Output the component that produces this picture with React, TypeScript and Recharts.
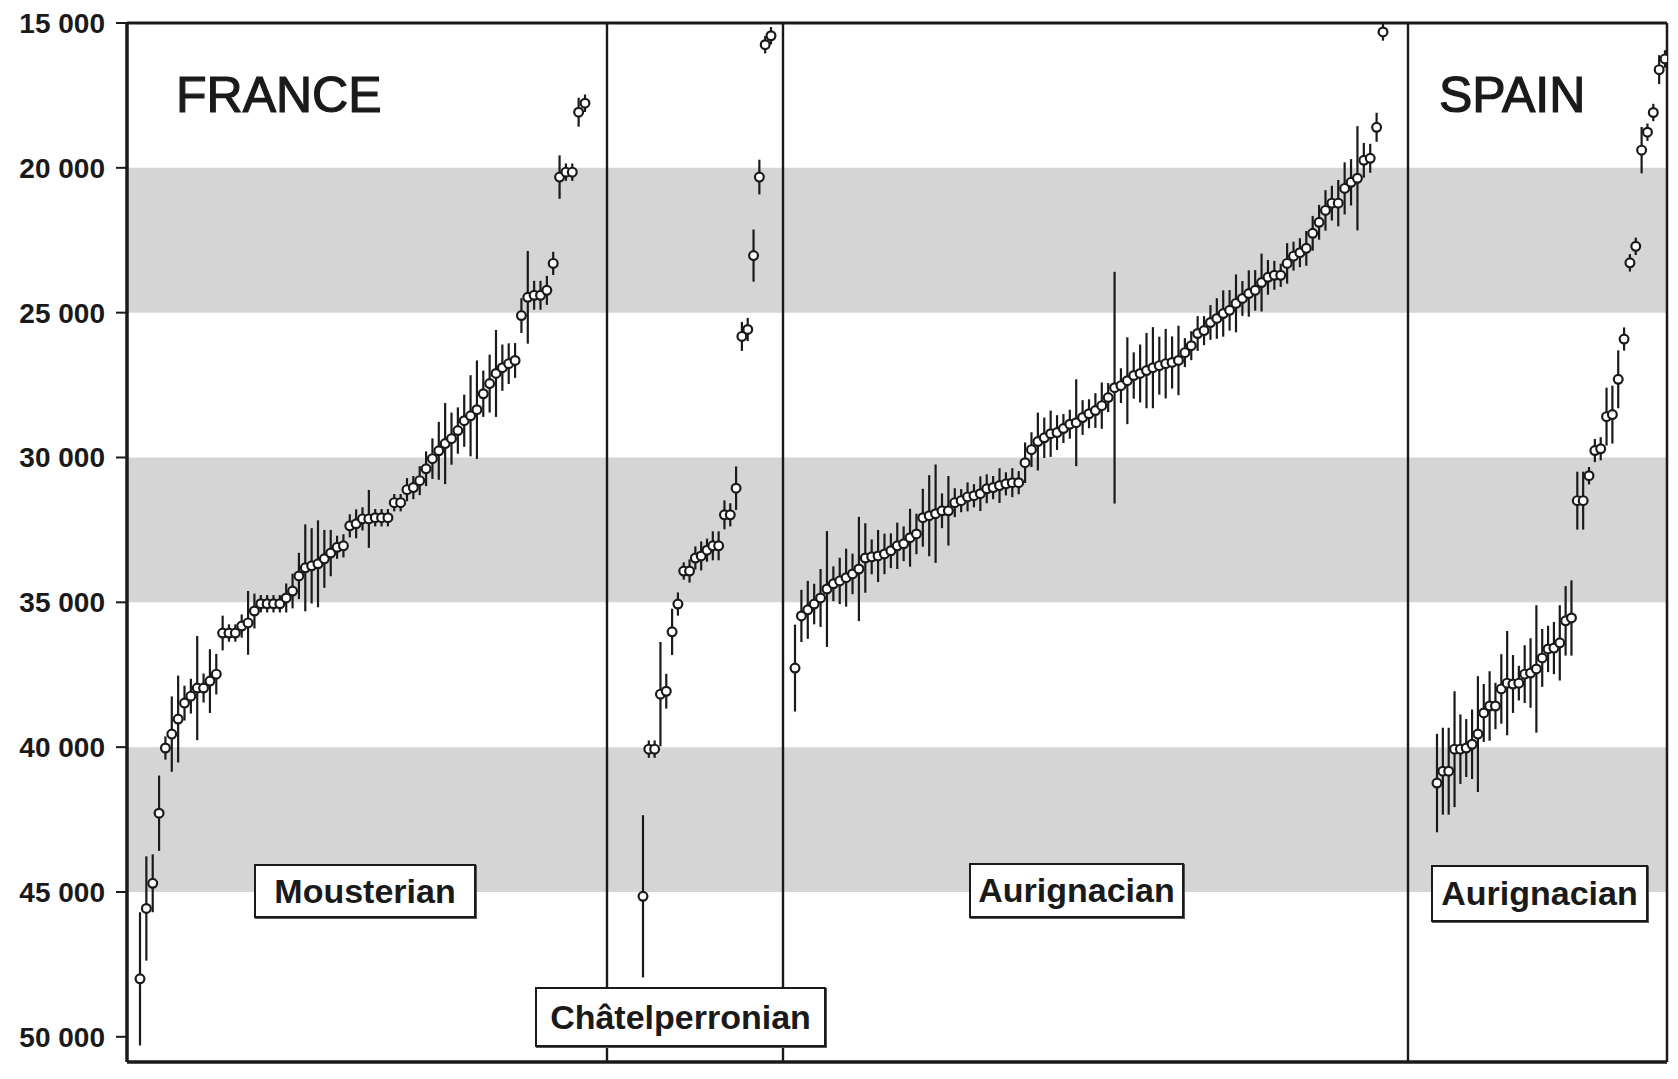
import {
  ComposedChart,
  Scatter,
  ErrorBar,
  XAxis,
  YAxis,
  ReferenceArea,
  ReferenceLine,
} from "recharts";

// radiocarbon ages (BP) sorted within each group, with 1-sigma errors
const mousterianAges = [
  48000, 45570, 44700, 42280, 40030, 39550, 39030, 38480, 38240, 37960,
  37960, 37720, 37480, 36060, 36060, 36060, 35820, 35710, 35300, 35050,
  35050, 35050, 35050, 34850, 34610, 34090, 33810, 33740, 33670, 33500,
  33300, 33100, 33050, 32360, 32290, 32120, 32120, 32080, 32080, 32080,
  31560, 31560, 31110, 31040, 30800, 30390, 30040, 29770, 29520, 29350,
  29070, 28730, 28560, 28350, 27800, 27450, 27100, 26900, 26760, 26650,
  25100, 24470, 24400, 24400, 24230, 23300, 20320, 20150, 20150, 18080, 17770,
];
const mousterianErrs = [
  2300, 1800, 1000, 1300, 400, 1300, 1500, 600, 600, 1800,
  500, 1100, 700, 600, 300, 300, 400, 1100, 600, 300,
  300, 300, 300, 500, 600, 800, 1500, 1300, 1500, 1000,
  800, 400, 400, 400, 500, 400, 1000, 300, 300, 300,
  300, 300, 400, 400, 500, 600, 700, 1000, 1400, 900,
  800, 900, 1400, 1700, 800, 1000, 1500, 800, 700, 600,
  600, 1600, 500, 500, 500, 400, 750, 300, 300, 500, 300,
];

const chatelperronianAges = [
  45150, 40070, 40070, 38170, 38070, 36020, 35060, 33920, 33920, 33470,
  33400, 33200, 33050, 33050, 31980, 31980, 31060, 25820, 25580, 23030,
  20320, 15750, 15440,
];
const chatelperronianErrs = [
  2800, 300, 300, 1800, 600, 800, 400, 300, 400, 400,
  500, 400, 500, 500, 500, 400, 750, 500, 400, 900,
  600, 300, 300,
];

const aurignacianAges = [
  37270, 35470, 35260, 35060, 34850, 34540, 34360, 34260, 34150, 34020,
  33850, 33470, 33430, 33400, 33330, 33220, 33050, 32980, 32770, 32640,
  32080, 32010, 31940, 31840, 31840, 31560, 31490, 31360, 31320, 31250,
  31080, 31040, 30970, 30910, 30870, 30870, 30180, 29730, 29450, 29320,
  29180, 29140, 29000, 28850, 28800, 28620, 28490, 28380, 28210, 27930,
  27590, 27520, 27350, 27170, 27100, 27000, 26900, 26830, 26760, 26720,
  26650, 26380, 26140, 25720, 25620, 25340, 25200, 25030, 24920, 24680,
  24510, 24340, 24230, 23960, 23780, 23710, 23710, 23300, 23050, 22930,
  22780, 22260, 21880, 21470, 21220, 21220, 20710, 20500, 20360, 19740,
  19670, 18600, 15310,
];
const aurignacianErrs = [
  1500, 900, 1000, 700, 1000, 2000, 600, 800, 1000, 700,
  1800, 1200, 600, 900, 700, 600, 800, 600, 1000, 700,
  1000, 1400, 1700, 600, 1200, 500, 400, 500, 400, 600,
  500, 400, 600, 400, 500, 400, 700, 600, 1000, 700,
  800, 600, 500, 500, 1500, 600, 500, 600, 800, 500,
  4000, 600, 1500, 800, 1000, 1300, 1400, 1000, 1200, 900,
  1200, 500, 500, 600, 500, 600, 700, 800, 700, 1000,
  600, 800, 700, 1000, 600, 500, 400, 700, 500, 500,
  600, 600, 600, 700, 600, 800, 900, 800, 1800, 600,
  500, 500, 300,
];

const spainAges = [
  41240, 40830, 40830, 40070, 40070, 40030, 39900, 39550, 38820, 38580,
  38580, 37990, 37790, 37820, 37790, 37480, 37440, 37300, 36920, 36610,
  36580, 36400, 35640, 35540, 31490, 31490, 30630, 29760, 29700, 28590,
  28520, 27300, 25910, 23280, 22710, 19390, 18770, 18090, 16610, 16240,
];
const spainErrs = [
  1700, 1500, 1500, 2000, 1200, 1000, 1200, 2000, 1000, 1200,
  800, 1200, 1800, 1000, 600, 1000, 1200, 2200, 1000, 800,
  900, 1300, 1200, 1300, 1000, 1000, 300, 400, 400, 1000,
  1000, 1000, 400, 300, 300, 800, 300, 300, 500, 300,
];

const yTicks = [15000, 20000, 25000, 30000, 35000, 40000, 45000, 50000];
const grayBands = [
  [20000, 25000],
  [30000, 35000],
  [40000, 45000],
];

// horizontal layout of the four groups (x axis runs in pixel-like units)
const X_MIN = 127;
const X_MAX = 1667;
const Y_MIN = 15000;
const Y_MAX = 50870;
const panels = [
  { key: "mou", ages: mousterianAges, errs: mousterianErrs, right: 607, first: 140, last: 585 },
  { key: "cha", ages: chatelperronianAges, errs: chatelperronianErrs, right: 783, first: 643, last: 771 },
  { key: "aur", ages: aurignacianAges, errs: aurignacianErrs, right: 1408, first: 795, last: 1383 },
  { key: "spa", ages: spainAges, errs: spainErrs, right: X_MAX, first: 1437, last: 1665 },
];

const INK = "#1a1a1a";
const BAND = "#d5d5d5";
const FONT = '"Liberation Sans", Arial, Helvetica, sans-serif';

function toPoints(p: (typeof panels)[number]) {
  const step = (p.last - p.first) / (p.ages.length - 1);
  return p.ages.map((age, i) => ({ x: p.first + i * step, age, err: p.errs[i] }));
}

// eslint-disable-next-line @typescript-eslint/no-explicit-any
const Dot = (props: any) => (
  <circle cx={props.cx} cy={props.cy} r={4.4} fill="#fff" stroke={INK} strokeWidth={2.2} />
);

const fmt = (v: number) => `${Math.round(v / 1000)} 000`;

const boxStyle: React.CSSProperties = {
  position: "absolute",
  background: "#fff",
  border: `2px solid ${INK}`,
  boxShadow: "1px 1px 0 #555",
  display: "flex",
  alignItems: "center",
  justifyContent: "center",
  fontWeight: 700,
  fontSize: 34,
  color: INK,
  boxSizing: "border-box",
};

const bigStyle: React.CSSProperties = {
  position: "absolute",
  fontSize: 50,
  lineHeight: "50px",
  color: INK,
  top: 70,
  WebkitTextStroke: `1.2px ${INK}`,
};

export default function App() {
  return (
    <div
      style={{
        position: "absolute",
        left: 0,
        top: 0,
        width: 1678,
        height: 1079,
        background: "#fff",
        fontFamily: FONT,
      }}
    >
      <ComposedChart
        width={1678}
        height={1079}
        margin={{ top: 23, right: 0, bottom: 17, left: 0 }}
      >
        <XAxis
          type="number"
          dataKey="x"
          domain={[X_MIN, X_MAX]}
          allowDataOverflow
          height={0}
          tick={false}
          tickLine={false}
          axisLine={false}
        />
        <YAxis
          type="number"
          dataKey="age"
          domain={[Y_MIN, Y_MAX]}
          allowDataOverflow
          reversed
          ticks={yTicks}
          interval={0}
          width={127}
          tickFormatter={fmt}
          tickSize={11}
          tickMargin={11}
          tick={{ fill: INK, fontSize: 28, fontWeight: 700, fontFamily: FONT }}
          tickLine={{ stroke: INK, strokeWidth: 2 }}
          axisLine={{ stroke: INK, strokeWidth: 3.5 }}
        />
        <YAxis
          yAxisId="r"
          orientation="right"
          type="number"
          domain={[Y_MIN, Y_MAX]}
          reversed
          ticks={yTicks}
          interval={0}
          width={11}
          tickSize={6}
          tick={() => <g />}
          tickLine={{ stroke: INK, strokeWidth: 1.5 }}
          axisLine={{ stroke: INK, strokeWidth: 2.5 }}
        />
        {grayBands.map(([a, b]) => (
          <ReferenceArea
            key={a}
            y1={a}
            y2={b}
            fill={BAND}
            fillOpacity={1}
            stroke="none"
          />
        ))}
        <ReferenceLine y={Y_MIN} stroke={INK} strokeWidth={3} />
        <ReferenceLine y={Y_MAX} stroke={INK} strokeWidth={3.5} />
        {panels.slice(0, 3).map((p) => (
          <ReferenceLine key={p.key} x={p.right} stroke={INK} strokeWidth={2.4} />
        ))}
        {panels.map((p) => (
          <Scatter
            key={p.key}
            data={toPoints(p)}
            dataKey="age"
            shape={Dot}
            isAnimationActive={false}
          >
            <ErrorBar
              dataKey="err"
              direction="y"
              width={0}
              stroke={INK}
              strokeWidth={2.2}
              isAnimationActive={false}
            />
          </Scatter>
        ))}
      </ComposedChart>

      <div style={{ ...bigStyle, left: 176 }}>FRANCE</div>
      <div style={{ ...bigStyle, left: 1439 }}>SPAIN</div>

      <div style={{ ...boxStyle, left: 254, top: 864, width: 222, height: 54 }}>Mousterian</div>
      <div style={{ ...boxStyle, left: 535, top: 987, width: 291, height: 60 }}>Châtelperronian</div>
      <div style={{ ...boxStyle, left: 969, top: 863, width: 215, height: 55 }}>Aurignacian</div>
      <div style={{ ...boxStyle, left: 1431, top: 865, width: 217, height: 57 }}>Aurignacian</div>
    </div>
  );
}
